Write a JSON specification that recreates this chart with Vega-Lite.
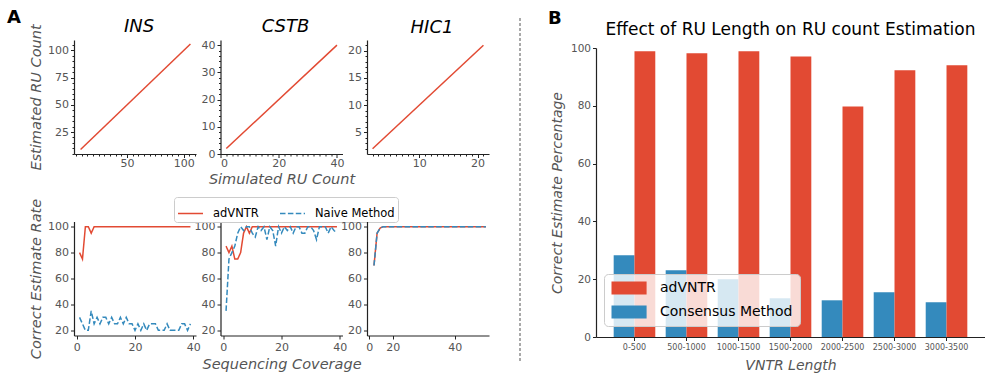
{
"$schema": "https://vega.github.io/schema/vega-lite/v6.json",
"padding": {"left": 7, "top": 8, "right": 0, "bottom": 0},
"config": {
  "font": "DejaVu Sans",
  "view": {"stroke": null},
  "axis": {"grid": false, "domainColor": "#222", "tickColor": "#222", "domainWidth": 1.2, "tickWidth": 1, "labelColor": "#555", "titleColor": "#555", "labelFontSize": 11, "titleFontSize": 14.5, "titleFontStyle": "italic", "titleFontWeight": "normal", "tickSize": 3.5, "labelPadding": 2, "titlePadding": 4, "labelFont": "DejaVu Sans", "titleFont": "DejaVu Sans"},
  "title": {"font": "DejaVu Sans", "fontSize": 18, "fontStyle": "italic", "fontWeight": "normal", "color": "black", "frame": "group", "baseline": "alphabetic", "anchor": "middle", "offset": 2.8},
  "legend": {"labelFont": "DejaVu Sans", "labelColor": "black"}
},
"datasets": {
  "top": [{"p":"INS","sim":9,"est":9},{"p":"INS","sim":106,"est":106},{"p":"CSTB","sim":2,"est":2},{"p":"CSTB","sim":40,"est":40},{"p":"HIC1","sim":2,"est":2},{"p":"HIC1","sim":21,"est":21}],
  "insB": [
{"m":"adVNTR","c":1,"r":80},{"m":"adVNTR","c":2,"r":75},{"m":"adVNTR","c":3,"r":100},{"m":"adVNTR","c":4,"r":100},{"m":"adVNTR","c":5,"r":95},{"m":"adVNTR","c":6,"r":100},{"m":"adVNTR","c":7,"r":100},{"m":"adVNTR","c":8,"r":100},{"m":"adVNTR","c":9,"r":100},{"m":"adVNTR","c":10,"r":100},
{"m":"adVNTR","c":11,"r":100},{"m":"adVNTR","c":12,"r":100},{"m":"adVNTR","c":13,"r":100},{"m":"adVNTR","c":14,"r":100},{"m":"adVNTR","c":15,"r":100},{"m":"adVNTR","c":16,"r":100},{"m":"adVNTR","c":17,"r":100},{"m":"adVNTR","c":18,"r":100},{"m":"adVNTR","c":19,"r":100},{"m":"adVNTR","c":20,"r":100},
{"m":"adVNTR","c":21,"r":100},{"m":"adVNTR","c":22,"r":100},{"m":"adVNTR","c":23,"r":100},{"m":"adVNTR","c":24,"r":100},{"m":"adVNTR","c":25,"r":100},{"m":"adVNTR","c":26,"r":100},{"m":"adVNTR","c":27,"r":100},{"m":"adVNTR","c":28,"r":100},{"m":"adVNTR","c":29,"r":100},{"m":"adVNTR","c":30,"r":100},
{"m":"adVNTR","c":31,"r":100},{"m":"adVNTR","c":32,"r":100},{"m":"adVNTR","c":33,"r":100},{"m":"adVNTR","c":34,"r":100},{"m":"adVNTR","c":35,"r":100},{"m":"adVNTR","c":36,"r":100},{"m":"adVNTR","c":37,"r":100},{"m":"adVNTR","c":38,"r":100},{"m":"adVNTR","c":39,"r":100},
{"m":"Naive Method","c":1,"r":30},{"m":"Naive Method","c":2,"r":25},{"m":"Naive Method","c":3,"r":20},{"m":"Naive Method","c":4,"r":20},{"m":"Naive Method","c":5,"r":35},{"m":"Naive Method","c":6,"r":25},{"m":"Naive Method","c":7,"r":30},{"m":"Naive Method","c":8,"r":25},{"m":"Naive Method","c":9,"r":30},{"m":"Naive Method","c":10,"r":30},
{"m":"Naive Method","c":11,"r":25},{"m":"Naive Method","c":12,"r":30},{"m":"Naive Method","c":13,"r":25},{"m":"Naive Method","c":14,"r":25},{"m":"Naive Method","c":15,"r":30},{"m":"Naive Method","c":16,"r":25},{"m":"Naive Method","c":17,"r":30},{"m":"Naive Method","c":18,"r":25},{"m":"Naive Method","c":19,"r":25},{"m":"Naive Method","c":20,"r":20},
{"m":"Naive Method","c":21,"r":25},{"m":"Naive Method","c":22,"r":20},{"m":"Naive Method","c":23,"r":25},{"m":"Naive Method","c":24,"r":20},{"m":"Naive Method","c":25,"r":25},{"m":"Naive Method","c":26,"r":25},{"m":"Naive Method","c":27,"r":25},{"m":"Naive Method","c":28,"r":20},{"m":"Naive Method","c":29,"r":20},{"m":"Naive Method","c":30,"r":20},
{"m":"Naive Method","c":31,"r":25},{"m":"Naive Method","c":32,"r":20},{"m":"Naive Method","c":33,"r":20},{"m":"Naive Method","c":34,"r":20},{"m":"Naive Method","c":35,"r":20},{"m":"Naive Method","c":36,"r":25},{"m":"Naive Method","c":37,"r":25},{"m":"Naive Method","c":38,"r":20},{"m":"Naive Method","c":39,"r":25}
  ],
  "cstbB": [
{"m":"adVNTR","c":1,"r":85},{"m":"adVNTR","c":2,"r":80},{"m":"adVNTR","c":3,"r":85},{"m":"adVNTR","c":4,"r":75},{"m":"adVNTR","c":5,"r":75},{"m":"adVNTR","c":6,"r":80},{"m":"adVNTR","c":7,"r":95},{"m":"adVNTR","c":8,"r":100},{"m":"adVNTR","c":9,"r":95},{"m":"adVNTR","c":10,"r":100},
{"m":"adVNTR","c":11,"r":100},{"m":"adVNTR","c":12,"r":100},{"m":"adVNTR","c":13,"r":100},{"m":"adVNTR","c":14,"r":100},{"m":"adVNTR","c":15,"r":100},{"m":"adVNTR","c":16,"r":100},{"m":"adVNTR","c":17,"r":100},{"m":"adVNTR","c":18,"r":100},{"m":"adVNTR","c":19,"r":100},{"m":"adVNTR","c":20,"r":100},
{"m":"adVNTR","c":21,"r":100},{"m":"adVNTR","c":22,"r":100},{"m":"adVNTR","c":23,"r":100},{"m":"adVNTR","c":24,"r":100},{"m":"adVNTR","c":25,"r":100},{"m":"adVNTR","c":26,"r":100},{"m":"adVNTR","c":27,"r":100},{"m":"adVNTR","c":28,"r":100},{"m":"adVNTR","c":29,"r":100},{"m":"adVNTR","c":30,"r":100},
{"m":"adVNTR","c":31,"r":100},{"m":"adVNTR","c":32,"r":100},{"m":"adVNTR","c":33,"r":100},{"m":"adVNTR","c":34,"r":100},{"m":"adVNTR","c":35,"r":100},{"m":"adVNTR","c":36,"r":100},{"m":"adVNTR","c":37,"r":100},{"m":"adVNTR","c":38,"r":100},{"m":"adVNTR","c":39,"r":100},
{"m":"Naive Method","c":1,"r":35},{"m":"Naive Method","c":2,"r":75},{"m":"Naive Method","c":3,"r":80},{"m":"Naive Method","c":4,"r":85},{"m":"Naive Method","c":5,"r":95},{"m":"Naive Method","c":6,"r":100},{"m":"Naive Method","c":7,"r":97},{"m":"Naive Method","c":8,"r":100},{"m":"Naive Method","c":9,"r":100},{"m":"Naive Method","c":10,"r":95},
{"m":"Naive Method","c":11,"r":92},{"m":"Naive Method","c":12,"r":100},{"m":"Naive Method","c":13,"r":97},{"m":"Naive Method","c":14,"r":100},{"m":"Naive Method","c":15,"r":90},{"m":"Naive Method","c":16,"r":100},{"m":"Naive Method","c":17,"r":97},{"m":"Naive Method","c":18,"r":85},{"m":"Naive Method","c":19,"r":100},{"m":"Naive Method","c":20,"r":95},
{"m":"Naive Method","c":21,"r":100},{"m":"Naive Method","c":22,"r":97},{"m":"Naive Method","c":23,"r":100},{"m":"Naive Method","c":24,"r":95},{"m":"Naive Method","c":25,"r":100},{"m":"Naive Method","c":26,"r":100},{"m":"Naive Method","c":27,"r":95},{"m":"Naive Method","c":28,"r":95},{"m":"Naive Method","c":29,"r":100},{"m":"Naive Method","c":30,"r":100},
{"m":"Naive Method","c":31,"r":97},{"m":"Naive Method","c":32,"r":90},{"m":"Naive Method","c":33,"r":100},{"m":"Naive Method","c":34,"r":100},{"m":"Naive Method","c":35,"r":100},{"m":"Naive Method","c":36,"r":95},{"m":"Naive Method","c":37,"r":100},{"m":"Naive Method","c":38,"r":97},{"m":"Naive Method","c":39,"r":95}
  ],
  "hicB": [
{"m":"adVNTR","c":14,"r":70},{"m":"adVNTR","c":15,"r":95},{"m":"adVNTR","c":16,"r":99},{"m":"adVNTR","c":17,"r":100},{"m":"adVNTR","c":18,"r":100},{"m":"adVNTR","c":19,"r":100},{"m":"adVNTR","c":20,"r":100},
{"m":"adVNTR","c":21,"r":100},{"m":"adVNTR","c":22,"r":100},{"m":"adVNTR","c":23,"r":100},{"m":"adVNTR","c":24,"r":100},{"m":"adVNTR","c":25,"r":100},{"m":"adVNTR","c":26,"r":100},{"m":"adVNTR","c":27,"r":100},{"m":"adVNTR","c":28,"r":100},{"m":"adVNTR","c":29,"r":100},{"m":"adVNTR","c":30,"r":100},
{"m":"adVNTR","c":31,"r":100},{"m":"adVNTR","c":32,"r":100},{"m":"adVNTR","c":33,"r":100},{"m":"adVNTR","c":34,"r":100},{"m":"adVNTR","c":35,"r":100},{"m":"adVNTR","c":36,"r":100},{"m":"adVNTR","c":37,"r":100},{"m":"adVNTR","c":38,"r":100},{"m":"adVNTR","c":39,"r":100},{"m":"adVNTR","c":40,"r":100},
{"m":"adVNTR","c":41,"r":100},{"m":"adVNTR","c":42,"r":100},{"m":"adVNTR","c":43,"r":100},{"m":"adVNTR","c":44,"r":100},{"m":"adVNTR","c":45,"r":100},{"m":"adVNTR","c":46,"r":100},{"m":"adVNTR","c":47,"r":100},{"m":"adVNTR","c":48,"r":100},{"m":"adVNTR","c":49,"r":100},{"m":"adVNTR","c":50,"r":100},
{"m":"Naive Method","c":14,"r":70},{"m":"Naive Method","c":15,"r":95},{"m":"Naive Method","c":16,"r":99},{"m":"Naive Method","c":17,"r":100},{"m":"Naive Method","c":18,"r":100},{"m":"Naive Method","c":19,"r":100},{"m":"Naive Method","c":20,"r":100},
{"m":"Naive Method","c":21,"r":100},{"m":"Naive Method","c":22,"r":100},{"m":"Naive Method","c":23,"r":100},{"m":"Naive Method","c":24,"r":100},{"m":"Naive Method","c":25,"r":100},{"m":"Naive Method","c":26,"r":100},{"m":"Naive Method","c":27,"r":100},{"m":"Naive Method","c":28,"r":100},{"m":"Naive Method","c":29,"r":100},{"m":"Naive Method","c":30,"r":100},
{"m":"Naive Method","c":31,"r":100},{"m":"Naive Method","c":32,"r":100},{"m":"Naive Method","c":33,"r":100},{"m":"Naive Method","c":34,"r":100},{"m":"Naive Method","c":35,"r":100},{"m":"Naive Method","c":36,"r":100},{"m":"Naive Method","c":37,"r":100},{"m":"Naive Method","c":38,"r":100},{"m":"Naive Method","c":39,"r":100},{"m":"Naive Method","c":40,"r":100},
{"m":"Naive Method","c":41,"r":100},{"m":"Naive Method","c":42,"r":100},{"m":"Naive Method","c":43,"r":100},{"m":"Naive Method","c":44,"r":100},{"m":"Naive Method","c":45,"r":100},{"m":"Naive Method","c":46,"r":100},{"m":"Naive Method","c":47,"r":100},{"m":"Naive Method","c":48,"r":100},{"m":"Naive Method","c":49,"r":100},{"m":"Naive Method","c":50,"r":100}
  ],
  "bars": [
{"len":"0-500","m":"Consensus Method","v":28.3},{"len":"0-500","m":"adVNTR","v":98.9},
{"len":"500-1000","m":"Consensus Method","v":23.1},{"len":"500-1000","m":"adVNTR","v":98.2},
{"len":"1000-1500","m":"Consensus Method","v":20.0},{"len":"1000-1500","m":"adVNTR","v":98.9},
{"len":"1500-2000","m":"Consensus Method","v":13.4},{"len":"1500-2000","m":"adVNTR","v":97.1},
{"len":"2000-2500","m":"Consensus Method","v":12.7},{"len":"2000-2500","m":"adVNTR","v":79.8},
{"len":"2500-3000","m":"Consensus Method","v":15.5},{"len":"2500-3000","m":"adVNTR","v":92.3},
{"len":"3000-3500","m":"Consensus Method","v":12.0},{"len":"3000-3500","m":"adVNTR","v":94.0}
  ]
},
"spacing": 30,
"resolve": {"scale": {"color": "independent", "strokeDash": "independent", "x": "independent", "y": "independent"}, "legend": {"color": "independent", "strokeDash": "independent"}},
"hconcat": [
 {
  "title": {"text": "A", "anchor": "start", "fontSize": 18, "fontWeight": "bold", "fontStyle": "normal", "dx": -67, "offset": -8.5},
  "spacing": 10.5,
  "resolve": {"scale": {"color": "independent", "strokeDash": "independent", "x": "independent", "y": "independent"}, "legend": {"color": "independent", "strokeDash": "independent"}},
  "vconcat": [
   {
    "bounds": "flush",
    "spacing": 24.5,
    "resolve": {"scale": {"x": "independent", "y": "independent"}},
    "hconcat": [
     {
      "width": 122, "height": 114,
      "data": {"name": "top"},
      "transform": [{"filter": "datum.p == 'INS'"}],
      "title": {"text": "INS", "offset": -12.2, "dx": 4},
      "mark": {"type": "line", "color": "#E24A33", "strokeWidth": 1.5},
      "encoding": {
       "x": {"field": "sim", "type": "quantitative", "scale": {"domain": [3.2, 110.9], "nice": false, "zero": false},
             "axis": {"title": null, "labelPadding": 0, "values": [5,10,15,20,25,30,35,40,45,50,55,60,65,70,75,80,85,90,95,100,105,110], "labelExpr": "datum.value % 50 == 0 ? datum.label : ''", "tickSize": {"condition": {"test": "datum.value % 50 == 0", "value": 3.5}, "value": 2}}},
       "y": {"field": "est", "type": "quantitative", "scale": {"domain": [4.8, 109.6], "nice": false, "zero": false},
             "axis": {"title": "Estimated RU Count", "values": [5,10,15,20,25,30,35,40,45,50,55,60,65,70,75,80,85,90,95,100,105], "labelExpr": "datum.value % 25 == 0 ? datum.label : ''", "tickSize": {"condition": {"test": "datum.value % 25 == 0", "value": 3.5}, "value": 2}}}
      }
     },
     {
      "width": 122, "height": 114,
      "data": {"name": "top"},
      "transform": [{"filter": "datum.p == 'CSTB'"}],
      "title": {"text": "CSTB", "dx": 4},
      "mark": {"type": "line", "color": "#E24A33", "strokeWidth": 1.5},
      "encoding": {
       "x": {"field": "sim", "type": "quantitative", "scale": {"domain": [0, 41.9], "nice": false, "zero": false},
             "axis": {"title": "Simulated RU Count", "labelPadding": 0, "titlePadding": 4, "values": [0,2,4,6,8,10,12,14,16,18,20,22,24,26,28,30,32,34,36,38,40], "labelExpr": "datum.value % 20 == 0 ? datum.label : ''", "tickSize": {"condition": {"test": "datum.value % 20 == 0", "value": 3.5}, "value": 2}}},
       "y": {"field": "est", "type": "quantitative", "scale": {"domain": [0, 41.9], "nice": false, "zero": false},
             "axis": {"title": null, "values": [0,2,4,6,8,10,12,14,16,18,20,22,24,26,28,30,32,34,36,38,40], "labelExpr": "datum.value % 10 == 0 ? datum.label : ''", "tickSize": {"condition": {"test": "datum.value % 10 == 0", "value": 3.5}, "value": 2}}}
      }
     },
     {
      "width": 122, "height": 114,
      "data": {"name": "top"},
      "transform": [{"filter": "datum.p == 'HIC1'"}],
      "title": {"text": "HIC1", "dx": 4},
      "mark": {"type": "line", "color": "#E24A33", "strokeWidth": 1.5},
      "encoding": {
       "x": {"field": "sim", "type": "quantitative", "scale": {"domain": [1.05, 21.95], "nice": false, "zero": false},
             "axis": {"title": null, "labelPadding": 0, "values": [2,3,4,5,6,7,8,9,10,11,12,13,14,15,16,17,18,19,20,21], "labelExpr": "datum.value % 10 == 0 ? datum.label : ''", "tickSize": {"condition": {"test": "datum.value % 10 == 0", "value": 3.5}, "value": 2}}},
       "y": {"field": "est", "type": "quantitative", "scale": {"domain": [1.05, 21.95], "nice": false, "zero": false},
             "axis": {"title": null, "values": [2,3,4,5,6,7,8,9,10,11,12,13,14,15,16,17,18,19,20,21], "labelExpr": "datum.value % 5 == 0 ? datum.label : ''", "tickSize": {"condition": {"test": "datum.value % 5 == 0", "value": 3.5}, "value": 2}}}
      }
     }
    ]
   },
   {
    "bounds": "flush",
    "spacing": 24.5,
    "resolve": {"scale": {"color": "independent", "strokeDash": "independent", "x": "independent", "y": "independent"}, "legend": {"color": "independent", "strokeDash": "independent"}},
    "hconcat": [
     {
      "width": 122, "height": 114,
      "data": {"name": "insB"},
      "encoding": {
       "x": {"field": "c", "type": "quantitative", "scale": {"domain": [-0.9, 40.9], "nice": false, "zero": false}, "axis": {"title": null, "values": [0, 20, 40]}},
       "y": {"field": "r", "type": "quantitative", "scale": {"domain": [16, 104], "nice": false, "zero": false}, "axis": {"title": "Correct Estimate Rate", "values": [20, 40, 60, 80, 100]}},
       "color": {"field": "m", "type": "nominal", "scale": {"domain": ["adVNTR", "Naive Method"], "range": ["#E24A33", "#348ABD"]}, "legend": null},
       "strokeDash": {"field": "m", "type": "nominal", "scale": {"domain": ["adVNTR", "Naive Method"], "range": [[1, 0], [5.5, 2.4]]}, "legend": null}
      },
      "layer": [
       {"transform": [{"filter": "datum.m == 'adVNTR'"}], "mark": {"type": "line", "strokeWidth": 1.5}},
       {"transform": [{"filter": "datum.m == 'Naive Method'"}], "mark": {"type": "line", "strokeWidth": 1.5}}
      ]
     },
     {
      "width": 122, "height": 114,
      "data": {"name": "cstbB"},
      "encoding": {
       "x": {"field": "c", "type": "quantitative", "scale": {"domain": [-0.9, 40.9], "nice": false, "zero": false}, "axis": {"title": "Sequencing Coverage", "titlePadding": 5, "values": [0, 20, 40]}},
       "y": {"field": "r", "type": "quantitative", "scale": {"domain": [16, 104], "nice": false, "zero": false}, "axis": {"title": null, "values": [20, 40, 60, 80, 100]}},
       "color": {"field": "m", "type": "nominal", "scale": {"domain": ["adVNTR", "Naive Method"], "range": ["#E24A33", "#348ABD"]},
                 "legend": {"orient": "none", "legendX": -46.5, "legendY": -24.5, "direction": "horizontal", "columns": 2, "title": null, "symbolType": "stroke", "symbolSize": 625, "symbolStrokeWidth": 1.5, "labelFontSize": 11.5, "labelOffset": 9, "columnPadding": 18, "padding": 3, "strokeColor": "#cccccc", "fillColor": "white", "cornerRadius": 3}},
       "strokeDash": {"field": "m", "type": "nominal", "scale": {"domain": ["adVNTR", "Naive Method"], "range": [[1, 0], [5.5, 2.4]]},
                 "legend": {"orient": "none", "legendX": -46.5, "legendY": -24.5, "direction": "horizontal", "columns": 2, "title": null, "symbolType": "stroke", "symbolSize": 625, "symbolStrokeWidth": 1.5, "labelFontSize": 11.5, "labelOffset": 9, "columnPadding": 18, "padding": 3, "strokeColor": "#cccccc", "fillColor": "white", "cornerRadius": 3}}
      },
      "layer": [
       {"transform": [{"filter": "datum.m == 'adVNTR'"}], "mark": {"type": "line", "strokeWidth": 1.5}},
       {"transform": [{"filter": "datum.m == 'Naive Method'"}], "mark": {"type": "line", "strokeWidth": 1.5}}
      ]
     },
     {
      "width": 122, "height": 114,
      "data": {"name": "hicB"},
      "encoding": {
       "x": {"field": "c", "type": "quantitative", "scale": {"domain": [11.75, 51], "nice": false, "zero": false}, "axis": {"title": null, "values": [12.5, 20, 40], "labelExpr": "datum.value == 12.5 ? '0' : datum.label"}},
       "y": {"field": "r", "type": "quantitative", "scale": {"domain": [16, 104], "nice": false, "zero": false}, "axis": {"title": null, "values": [20, 40, 60, 80, 100]}},
       "color": {"field": "m", "type": "nominal", "scale": {"domain": ["adVNTR", "Naive Method"], "range": ["#E24A33", "#348ABD"]}, "legend": null},
       "strokeDash": {"field": "m", "type": "nominal", "scale": {"domain": ["adVNTR", "Naive Method"], "range": [[1, 0], [5.5, 2.4]]}, "legend": null}
      },
      "layer": [
       {"transform": [{"filter": "datum.m == 'adVNTR'"}], "mark": {"type": "line", "strokeWidth": 1.5}},
       {"transform": [{"filter": "datum.m == 'Naive Method'"}], "mark": {"type": "line", "strokeWidth": 1.5}}
      ]
     }
    ]
   }
  ]
 },
 {
  "title": {"text": "B", "anchor": "start", "fontSize": 18, "fontWeight": "bold", "fontStyle": "normal", "dx": 28, "offset": -12.5},
  "bounds": "flush",
  "spacing": 75,
  "resolve": {"scale": {"color": "independent", "x": "independent", "y": "independent"}, "legend": {"color": "independent"}},
  "hconcat": [
   {
    "width": 1, "height": 297,
    "data": {"values": [{"k": 0}]},
    "mark": {"type": "rule", "strokeDash": [3, 2], "color": "#555", "strokeWidth": 1},
    "encoding": {
     "x": {"datum": 0, "type": "quantitative", "scale": {"domain": [0, 1]}, "axis": null},
     "y": {"datum": 0, "type": "quantitative", "scale": {"domain": [0, 1], "range": [321, -24]}, "axis": null},
     "y2": {"datum": 1}
    }
   },
   {
    "width": 389, "height": 297,
    "data": {"name": "bars"},
    "title": {"text": "Effect of RU Length on RU count Estimation", "fontSize": 17, "fontStyle": "normal", "offset": 1.5},
    "mark": {"type": "bar"},
    "encoding": {
     "x": {"field": "len", "type": "nominal", "sort": ["0-500","500-1000","1000-1500","1500-2000","2000-2500","2500-3000","3000-3500"], "scale": {"paddingInner": 0.2, "paddingOuter": 0.34},
           "axis": {"title": "VNTR Length", "labelAngle": 0, "labelFontSize": 8, "titleFontSize": 14, "titlePadding": 7, "labelPadding": 3}},
     "xOffset": {"field": "m", "type": "nominal", "scale": {"domain": ["Consensus Method", "adVNTR"], "paddingInner": 0, "paddingOuter": 0}},
     "y": {"field": "v", "type": "quantitative", "scale": {"domain": [0, 100], "range": [297, 8], "nice": false},
           "axis": {"title": "Correct Estimate Percentage", "values": [0, 20, 40, 60, 80, 100], "labelFontSize": 10.5, "titleFontSize": 14, "titlePadding": 6}},
     "color": {"field": "m", "type": "nominal", "scale": {"domain": ["adVNTR", "Consensus Method"], "range": ["#E24A33", "#348ABD"]},
               "legend": {"orient": "none", "legendX": 8, "legendY": 234, "title": null, "symbolType": "M-1,-1H4.4V1H-1Z", "symbolSize": 169, "symbolStrokeWidth": 0, "labelFontSize": 14, "labelOffset": 35, "padding": 7, "rowPadding": 10, "fillColor": "rgba(255,255,255,0.8)", "strokeColor": "#cccccc", "cornerRadius": 4}}
    }
   }
  ]
 }
]
}
